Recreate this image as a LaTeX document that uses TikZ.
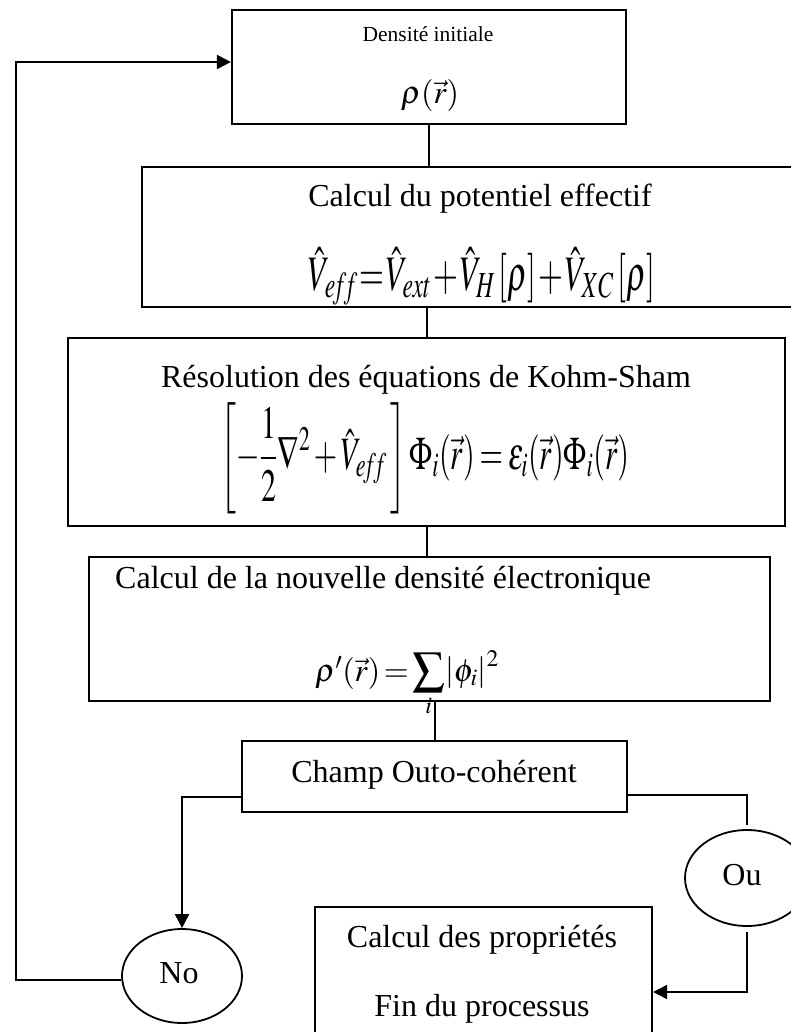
\documentclass[tikz,border=0pt]{standalone}
\usepackage{mathptmx}
\usepackage[no-math]{fontspec}
\setmainfont{Liberation Serif}
\usetikzlibrary{arrows.meta,shapes.geometric}
\tikzset{
  box/.style={draw, line width=2.2pt, rectangle, inner sep=0pt},
  circ/.style={draw, line width=1.8pt, ellipse, inner sep=0pt},
  conn/.style={line width=2pt},
  arr/.style={conn, -{Triangle[length=14pt,width=14pt]}},
  lbl/.style={font=\fontsize{32}{38}\selectfont, inner sep=0pt},
}
\begin{document}
\begin{tikzpicture}[x=1pt, y=-1pt]
\useasboundingbox (0,0) rectangle (791,1032);
% boxes
\node[box, minimum width=394pt, minimum height=114pt] (b1) at (429,67) {};
\node[box, minimum width=670pt, minimum height=140pt] (b2) at (477,237) {};
\node[box, minimum width=717pt, minimum height=188pt] (b3) at (426.5,432) {};
\node[box, minimum width=681pt, minimum height=144pt] (b4) at (429.5,629) {};
\node[box, minimum width=385pt, minimum height=71pt] (champ) at (434.5,776.5) {};
\node[box, minimum width=337pt, minimum height=139pt] (fin) at (483.5,976.5) {};
\node[circ, minimum width=120pt, minimum height=94pt] (no) at (182,976) {};
\node[circ, minimum width=124pt, minimum height=96pt] (ou) at (747,878) {};
% texts
\node[lbl, font=\fontsize{21.5}{25}\selectfont, anchor=base] (t1) at (428,42) {Densité initiale};
\node[lbl] (f1) at (430,96) {$\rho(\vec{r})$};
\node[lbl, anchor=base] (t2) at (480,207) {Calcul du potentiel effectif};
\node[lbl, anchor=base] (f2) at (482,290) {\scalebox{1}[1.55]{$\thickmuskip=1mu\medmuskip=1mu\hat{V}_{e\!f\!f}=\hat{V}_{ext}+\hat{V}_{H}\,[\rho]+\hat{V}_{XC}\,[\rho]$}};
\node[lbl, anchor=base] (t3) at (426,387) {Résolution des équations de Kohm-Sham};
\node[lbl] (f3) at (425,458) {\scalebox{0.94}[1.45]{$\thickmuskip=3mu\medmuskip=2mu\displaystyle\left[-\frac{1}{2}\nabla^{2}+\hat{V}_{e\!f\!f}\,\right]\Phi_{i}(\vec{r})=\varepsilon_{i}(\vec{r})\Phi_{i}(\vec{r})$}};
\node[lbl, anchor=base west] (t4) at (115,588) {Calcul de la nouvelle densité électronique};
\node[lbl, anchor=base] (f4) at (407,681) {$\thickmuskip=2mu\rho'(\vec{r})=\displaystyle\sum_{i}\!\left|\phi_{i}\right|^{2}$};
\node[lbl, anchor=base] (t5) at (434,782) {Champ Outo-cohérent};
\node[lbl, anchor=base] (tno) at (179,983) {No};
\node[lbl, anchor=base] (tou) at (742,885) {Ou};
\node[lbl, anchor=base] (t6) at (482,947) {Calcul des propriétés};
\node[lbl, anchor=base] (t7) at (482,1016) {Fin du processus};
% connectors
\draw[conn] (b1.south) -- (b1.south |- b2.north);
\draw[conn] (b3.north) -- (b3.north |- b2.south);
\draw[conn] (b3.south) -- (b3.south |- b4.north);
\draw[conn] (champ.north) -- (champ.north |- b4.south);
\draw[arr] ([yshift=-20.5pt]champ.west) -| (no.north);
\coordinate (lx) at (16,0);
\draw[arr] ([yshift=-4pt]no.west) -- ([yshift=-4pt]no.west -| lx) |- ([yshift=5pt]b1.west);
\draw[conn, shorten >=4pt] ([yshift=-18.5pt]champ.east) -| (ou.north);
\draw[arr, shorten <=5pt] (ou.south) |- ([yshift=-15.5pt]fin.east);
\end{tikzpicture}
\end{document}
